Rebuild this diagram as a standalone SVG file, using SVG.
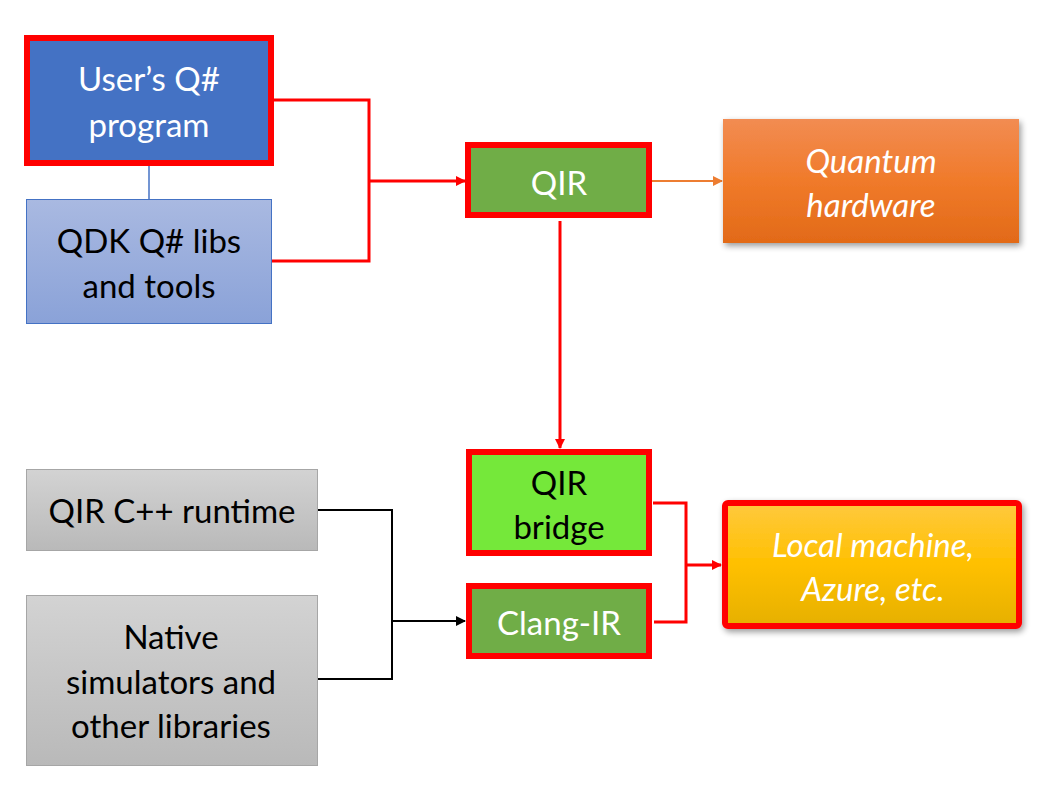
<svg xmlns="http://www.w3.org/2000/svg" width="1050" height="799" viewBox="0 0 1050 799">
<style>
text{font-family:Lato,"Open Sans","Liberation Sans",sans-serif;font-size:33px;text-anchor:middle}
.w{fill:#fff}.k{fill:#000}.i{font-style:italic}
.redb{stroke:#ff0000;stroke-width:6}
.rc{fill:none;stroke:#ff0000;stroke-width:3}
.bc{fill:none;stroke:#000;stroke-width:2}
</style>
<defs>
<linearGradient id="gQdk" x1="0" y1="0" x2="0" y2="1"><stop offset="0" stop-color="#a9b9e1"/><stop offset="1" stop-color="#8aa2d8"/></linearGradient>
<linearGradient id="gGray" x1="0" y1="0" x2="0" y2="1"><stop offset="0" stop-color="#d3d3d3"/><stop offset="1" stop-color="#b9b9b9"/></linearGradient>
<linearGradient id="gOr" x1="0" y1="0" x2="0" y2="1"><stop offset="0" stop-color="#f28c52"/><stop offset="0.5" stop-color="#f07a2a"/><stop offset="1" stop-color="#e26a18"/></linearGradient>
<linearGradient id="gYe" x1="0" y1="0" x2="0" y2="1"><stop offset="0" stop-color="#ffc93e"/><stop offset="0.5" stop-color="#ffc000"/><stop offset="1" stop-color="#e6b000"/></linearGradient>
<filter id="sh" x="-10%" y="-10%" width="125%" height="130%"><feGaussianBlur in="SourceAlpha" stdDeviation="3"/><feOffset dx="2" dy="3"/><feComponentTransfer><feFuncA type="linear" slope="0.4"/></feComponentTransfer><feMerge><feMergeNode/><feMergeNode in="SourceGraphic"/></feMerge></filter>
<marker id="aR" markerWidth="10" markerHeight="10" refX="9" refY="5" orient="auto" markerUnits="userSpaceOnUse" viewBox="0 0 10 10"><path d="M0,0 L10,5 L0,10 z" fill="#ff0000"/></marker>
<marker id="aO" markerWidth="10" markerHeight="10" refX="9" refY="5" orient="auto" markerUnits="userSpaceOnUse" viewBox="0 0 10 10"><path d="M0,0 L10,5 L0,10 z" fill="#ed7d31"/></marker>
<marker id="aK" markerWidth="10" markerHeight="10" refX="9" refY="5" orient="auto" markerUnits="userSpaceOnUse" viewBox="0 0 10 10"><path d="M0,0 L10,5 L0,10 z" fill="#000"/></marker>
</defs>

<g id="connectors">
<line x1="149" y1="166" x2="149" y2="199" stroke="#4472c4" stroke-width="1.5"/>
<polyline class="rc" points="274,100 369,100 369,261 272,261"/>
<line class="rc" x1="369" y1="181" x2="465" y2="181" marker-end="url(#aR)"/>
<line x1="652" y1="181" x2="722" y2="181" stroke="#ed7d31" stroke-width="2" marker-end="url(#aO)"/>
<line class="rc" x1="560" y1="221" x2="560" y2="448" marker-end="url(#aR)"/>
<polyline class="rc" points="653,503 686,503 686,622 654,622"/>
<line class="rc" x1="686" y1="565" x2="721" y2="565" marker-end="url(#aR)"/>
<polyline class="bc" points="318,510 392,510 392,679 317,679"/>
<line class="bc" x1="392" y1="621" x2="465" y2="621" marker-end="url(#aK)"/>
</g>

<g id="user-program">
<rect x="27" y="38" width="244" height="125" fill="#4472c4" class="redb"/>
<text class="w" x="149" y="91">User’s Q#</text>
<text class="w" x="149" y="137">program</text>
</g>

<g id="qdk-libs">
<rect x="26.5" y="199.5" width="245" height="124" fill="url(#gQdk)" stroke="#4472c4" stroke-width="1"/>
<text class="k" x="149" y="253">QDK Q# libs</text>
<text class="k" x="149" y="298">and tools</text>
</g>

<g id="qir">
<rect x="468" y="145" width="181" height="70" fill="#70ad47" class="redb"/>
<text class="w" x="559" y="195">QIR</text>
</g>

<g id="quantum-hardware">
<rect x="723" y="119" width="296" height="124" fill="url(#gOr)" filter="url(#sh)"/>
<text class="w i" x="871" y="173">Quantum</text>
<text class="w i" x="871" y="217">hardware</text>
</g>

<g id="qir-bridge">
<rect x="469" y="452" width="180" height="101" fill="#75e83a" class="redb"/>
<text class="k" x="559" y="495">QIR</text>
<text class="k" x="559" y="539">bridge</text>
</g>

<g id="clang-ir">
<rect x="469" y="586" width="180" height="70" fill="#70ad47" class="redb"/>
<text class="w" x="559" y="635">Clang-IR</text>
</g>

<g id="local-machine">
<rect x="725" y="503" width="294" height="123" rx="3" fill="url(#gYe)" class="redb" filter="url(#sh)"/>
<text class="w i" x="873" y="557">Local machine,</text>
<text class="w i" x="873" y="601">Azure, etc.</text>
</g>

<g id="qir-runtime">
<rect x="26.5" y="469.5" width="291" height="81" fill="url(#gGray)" stroke="#a6a6a6" stroke-width="1"/>
<text class="k" x="172" y="523">QIR C++ runtime</text>
</g>

<g id="native-sims">
<rect x="26.5" y="595.5" width="291" height="170" fill="url(#gGray)" stroke="#a6a6a6" stroke-width="1"/>
<text class="k" x="171" y="649">Native</text>
<text class="k" x="171" y="694">simulators and</text>
<text class="k" x="171" y="738">other libraries</text>
</g>
</svg>
